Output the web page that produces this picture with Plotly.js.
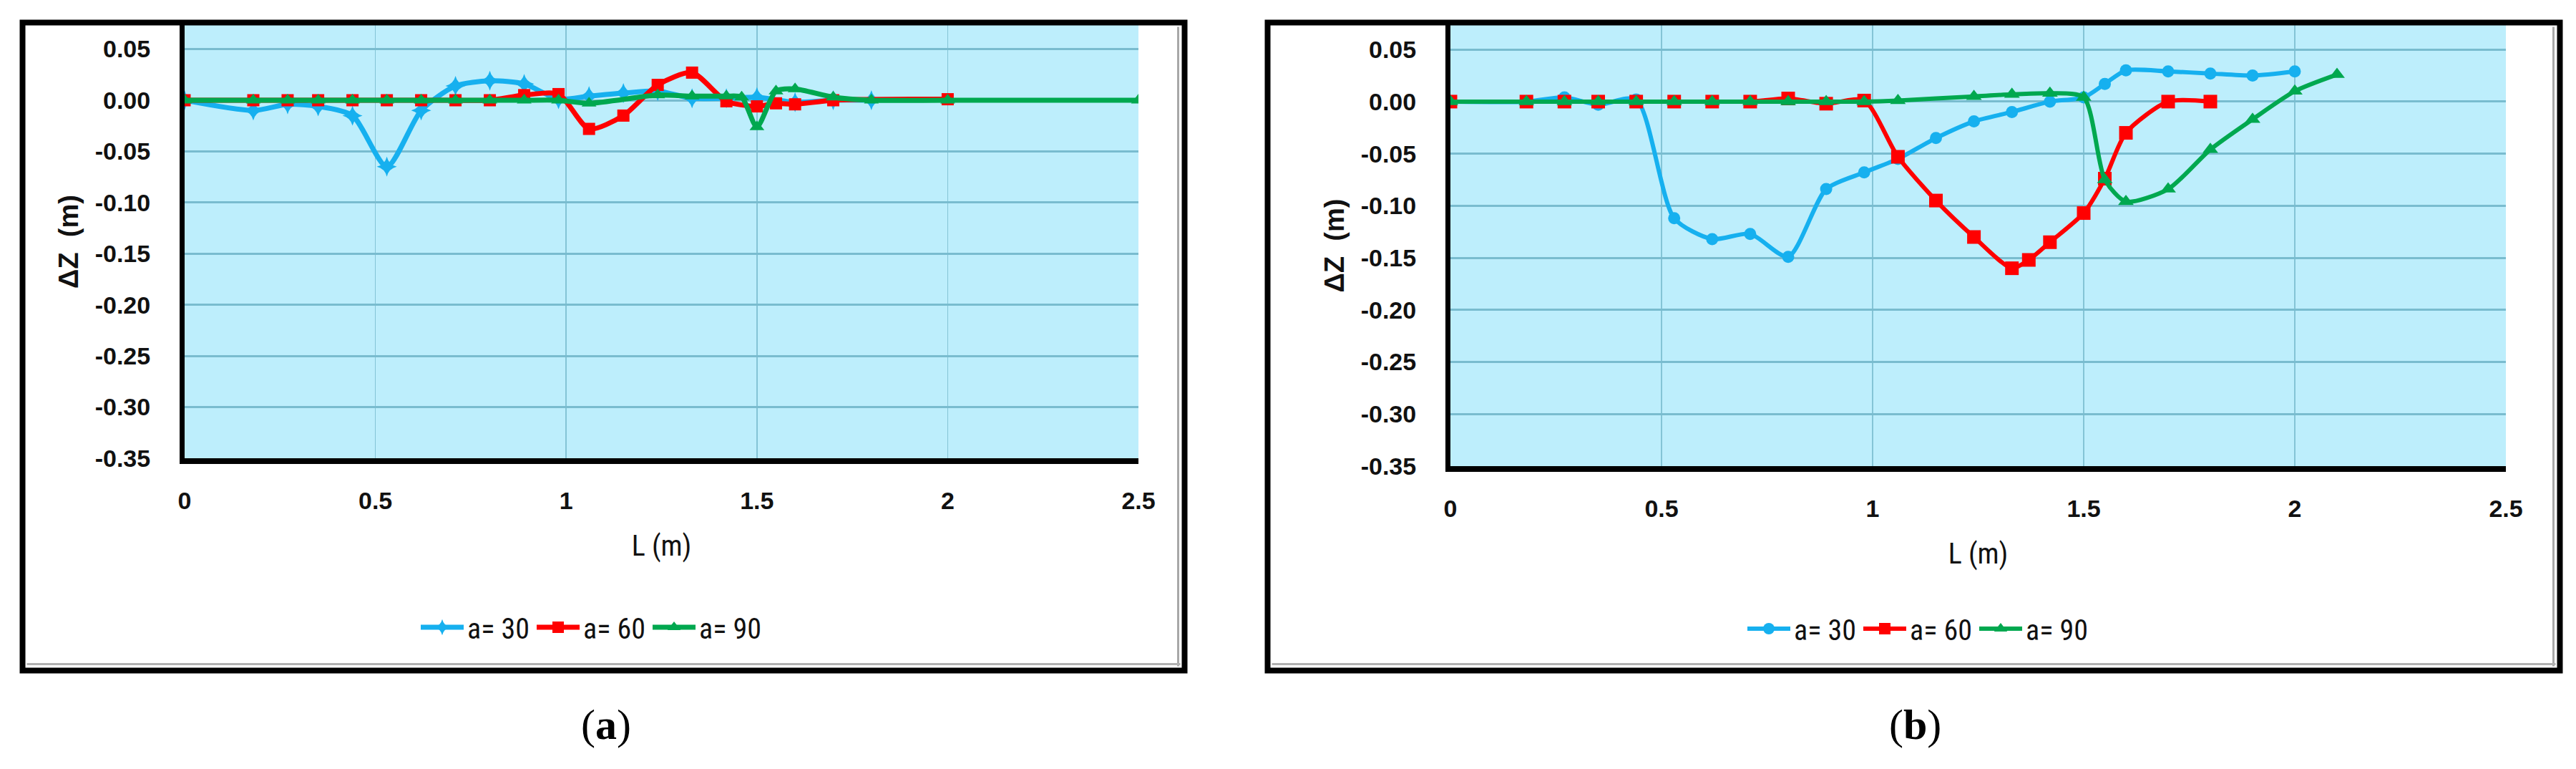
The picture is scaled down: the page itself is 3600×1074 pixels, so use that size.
<!DOCTYPE html>
<html>
<head>
<meta charset="utf-8">
<script src="https://cdn.plot.ly/plotly-3.0.1.min.js"></script>
<style>html,body{margin:0;padding:0;background:#fff;}#chart{width:3600px;height:1074px;}</style>
</head>
<body>
<div id="chart"></div>
<script>
// ---------- data ----------
var seriesNames = ["a= 30", "a= 60", "a= 90"];
var xTickVals = [0, 0.5, 1, 1.5, 2, 2.5];
var xTickText = ["0", "0.5", "1", "1.5", "2", "2.5"];
var yTickVals = [0.05, 0, -0.05, -0.10, -0.15, -0.20, -0.25, -0.30, -0.35];
var yTickText = ["0.05", "0.00", "-0.05", "-0.10", "-0.15", "-0.20", "-0.25", "-0.30", "-0.35"];

// panel (a)
var a30_x = [0, 0.18, 0.27, 0.35, 0.44, 0.53, 0.62, 0.71, 0.80, 0.89, 0.98, 1.06, 1.15, 1.24, 1.33, 1.42, 1.50, 1.60, 1.70, 1.80];
var a30_y = [0, -0.010, -0.004, -0.006, -0.015, -0.065, -0.010, 0.014, 0.019, 0.016, 0.001, 0.004, 0.007, 0.009, 0.002, 0.002, 0.003, -0.002, 0.000, 0.000];
var a60_x = [0, 0.18, 0.27, 0.35, 0.44, 0.53, 0.62, 0.71, 0.80, 0.89, 0.98, 1.06, 1.15, 1.24, 1.33, 1.42, 1.50, 1.55, 1.60, 1.70, 2.00];
var a60_y = [0, 0, 0, 0, 0, 0, 0, 0, 0, 0.005, 0.006, -0.028, -0.015, 0.015, 0.027, -0.001, -0.006, -0.003, -0.004, 0.000, 0.001];
var a90_x = [0, 0.18, 0.27, 0.35, 0.44, 0.53, 0.62, 0.71, 0.80, 0.89, 0.98, 1.06, 1.24, 1.33, 1.42, 1.46, 1.50, 1.55, 1.60, 1.70, 1.80, 2.00, 2.50];
var a90_y = [0, 0, 0, 0, 0, 0, 0, 0, 0, 0, 0, -0.003, 0.005, 0.004, 0.004, 0.003, -0.026, 0.009, 0.011, 0.003, 0, 0, 0];

// panel (b)
var b30_x = [0, 0.18, 0.27, 0.35, 0.44, 0.53, 0.62, 0.71, 0.80, 0.89, 0.98, 1.06, 1.15, 1.24, 1.33, 1.42, 1.50, 1.55, 1.60, 1.70, 1.80, 1.90, 2.00];
var b30_y = [0, 0, 0.004, -0.003, 0.002, -0.112, -0.132, -0.127, -0.149, -0.084, -0.068, -0.055, -0.035, -0.019, -0.010, 0.000, 0.004, 0.017, 0.030, 0.029, 0.027, 0.025, 0.029];
var b60_x = [0, 0.18, 0.27, 0.35, 0.44, 0.53, 0.62, 0.71, 0.80, 0.89, 0.98, 1.06, 1.15, 1.24, 1.33, 1.37, 1.42, 1.50, 1.55, 1.60, 1.70, 1.80];
var b60_y = [0, 0, 0, 0, 0, 0, 0, 0, 0.003, -0.002, 0.001, -0.053, -0.095, -0.130, -0.160, -0.152, -0.135, -0.107, -0.074, -0.030, 0.000, 0.000];
var b90_x = [0, 0.18, 0.27, 0.35, 0.44, 0.53, 0.62, 0.71, 0.80, 0.89, 0.98, 1.06, 1.24, 1.33, 1.42, 1.50, 1.55, 1.60, 1.70, 1.80, 1.90, 2.00, 2.10];
var b90_y = [0, 0, 0, 0, 0, 0, 0, 0, 0, 0, 0, 0.001, 0.005, 0.007, 0.008, 0.004, -0.075, -0.096, -0.084, -0.046, -0.017, 0.010, 0.026];

// ---------- styles ----------
var C_BLUE = "#16b0ef", C_RED = "#ff0000", C_GREEN = "#00a84f";
var W = 3600, H = 1074;
function px(x) { return x / W; }
function py(y) { return 1 - y / H; }

var narrowFont = "Liberation Sans Narrow, Roboto Condensed, Roboto, sans-serif";

function tr(x, y, name, color, symbol, size, xa, ya, legend, lw) {
  return {
    x: x, y: y, name: name, type: "scatter", mode: "lines+markers",
    xaxis: xa, yaxis: ya, legend: legend,
    line: { color: color, width: lw, shape: "spline", smoothing: 0.7 },
    marker: { color: color, symbol: symbol, size: size, line: { width: 0 } }
  };
}

var data = [
  tr(a30_x, a30_y, seriesNames[0], C_BLUE, "star-diamond", 20, "x", "y", "legend", 7),
  tr(a60_x, a60_y, seriesNames[1], C_RED, "square", 17, "x", "y", "legend", 7),
  tr(a90_x, a90_y, seriesNames[2], C_GREEN, "triangle-up", 18, "x", "y", "legend", 7),
  tr(b30_x, b30_y, seriesNames[0], C_BLUE, "circle", 17, "x2", "y2", "legend2", 6),
  tr(b60_x, b60_y, seriesNames[1], C_RED, "square", 19, "x2", "y2", "legend2", 6),
  tr(b90_x, b90_y, seriesNames[2], C_GREEN, "triangle-up", 19, "x2", "y2", "legend2", 6)
];

function xAxis(domain, anchor) {
  return {
    domain: domain, anchor: anchor, range: [0, 2.5], fixedrange: true,
    tickvals: xTickVals, ticktext: xTickText, ticks: "",
    tickfont: { family: "Liberation Sans, Arial, sans-serif", size: 34, color: "#111", weight: 700 },
    ticklabelstandoff: 22,
    showgrid: true, gridcolor: "#84c4d6", gridwidth: 1.5,
    showline: true, linecolor: "#000", linewidth: 8, zeroline: false,
    title: { text: "L (m)", font: { family: narrowFont, size: 40, color: "#111" }, standoff: 34 },
    automargin: false
  };
}
function yAxis(domain, anchor) {
  return {
    domain: domain, anchor: anchor, range: [-0.35, 0.0735], fixedrange: true,
    tickvals: yTickVals, ticktext: yTickText, ticks: "",
    tickfont: { family: "Liberation Sans, Arial, sans-serif", size: 34, color: "#111", weight: 700 },
    ticklabelstandoff: 34,
    showgrid: true, gridcolor: "#79bccf", gridwidth: 3,
    showline: true, linecolor: "#000", linewidth: 7, zeroline: false,
    title: { text: "ΔZ  (m)", font: { family: "Liberation Sans, Arial, sans-serif", size: 38, color: "#111", weight: 700 }, standoff: 14 },
    automargin: false
  };
}

// gradient background bands for the plot areas
var shapes = [];
var N = 40;
var top = [222, 247, 253], bot = [154, 230, 251];
[["x domain", "y domain"], ["x2 domain", "y2 domain"]].forEach(function (r) {
  for (var i = 0; i < N; i++) {
    var t = (i + 0.5) / N; // 0 bottom .. 1 top
    var c = [0, 1, 2].map(function (k) { return Math.round(bot[k] + (top[k] - bot[k]) * t); });
    shapes.push({
      type: "rect", xref: r[0], yref: r[1], x0: 0, x1: 1, y0: i / N, y1: (i + 1) / N + 0.002,
      fillcolor: "rgb(" + c.join(",") + ")", line: { width: 0 }, layer: "below"
    });
  }
});
// outer frames
function frame(x0, x1, y0, y1) {
  shapes.push({ type: "line", xref: "paper", yref: "paper", x0: px(x1 - 9), x1: px(x1 - 9), y0: py(y0 + 6), y1: py(y1 - 6), line: { color: "#a8a8a8", width: 3 }, layer: "above" });
  shapes.push({ type: "line", xref: "paper", yref: "paper", x0: px(x0 + 6), x1: px(x1 - 6), y0: py(y1 - 9), y1: py(y1 - 9), line: { color: "#b0b0b0", width: 3 }, layer: "above" });
  shapes.push({ type: "rect", xref: "paper", yref: "paper", x0: px(x0), x1: px(x1), y0: py(y1), y1: py(y0), line: { color: "#000", width: 8 }, fillcolor: "rgba(0,0,0,0)", layer: "above" });
}
frame(31.5, 1655.5, 31.5, 936.5);
frame(1771.5, 3577.5, 31.5, 936.5);

var legendBase = {
  orientation: "h", xanchor: "center", yanchor: "middle", bgcolor: "rgba(0,0,0,0)",
  font: { family: narrowFont, size: 40, color: "#111" }, itemwidth: 60, tracegroupgap: 0
};

var layout = {
  width: W, height: H,
  margin: { l: 0, r: 0, t: 0, b: 0, pad: 0 },
  paper_bgcolor: "#fff", plot_bgcolor: "#bdeefc",
  showlegend: true,
  xaxis: xAxis([px(258), px(1591)], "y"),
  yaxis: yAxis([py(640), py(35)], "x"),
  xaxis2: xAxis([px(2027), px(3502)], "y2"),
  yaxis2: yAxis([py(651), py(35)], "x2"),
  legend: Object.assign({}, legendBase, { x: px(826), y: py(876) }),
  legend2: Object.assign({}, legendBase, { x: px(2680), y: py(878) }),
  shapes: shapes,
  annotations: [
    { text: "(<b>a</b>)", xref: "paper", yref: "paper", x: px(847), y: py(1012), showarrow: false, xanchor: "center", yanchor: "middle", font: { family: "Liberation Serif, Times New Roman, serif", size: 60, color: "#000" } },
    { text: "(<b>b</b>)", xref: "paper", yref: "paper", x: px(2676), y: py(1012), showarrow: false, xanchor: "center", yanchor: "middle", font: { family: "Liberation Serif, Times New Roman, serif", size: 60, color: "#000" } }
  ]
};

Plotly.newPlot("chart", data, layout, { staticPlot: true, displayModeBar: false });
</script>
</body>
</html>
